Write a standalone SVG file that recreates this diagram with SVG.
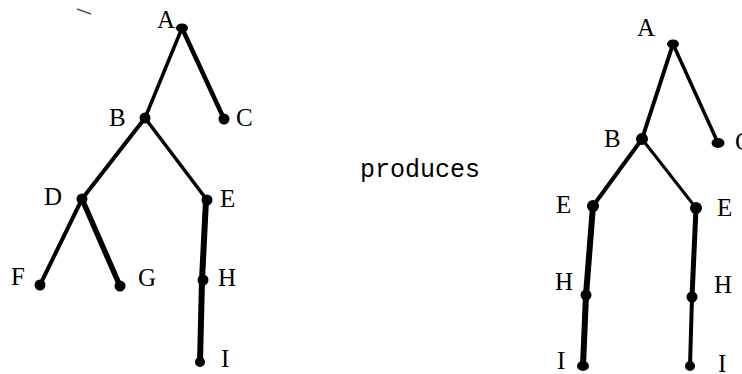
<svg xmlns="http://www.w3.org/2000/svg" width="742" height="374" viewBox="0 0 742 374">
<style>
.e{stroke:#000;stroke-linecap:round;fill:none}
.n{fill:#000}
.l{font-family:"Liberation Serif","Times New Roman",serif;font-size:25px;fill:#000}
.p{font-family:"Liberation Mono","Courier New",monospace;font-size:25px;fill:#000}
</style>
<rect width="742" height="374" fill="#fff"/>
<path d="M77 9 L91 14" stroke="#555" stroke-width="1.5" fill="none"/>
<g id="connectors">
<line class="e" x1="182" y1="28" x2="145" y2="118" stroke-width="3.5"/>
<line class="e" x1="182" y1="28" x2="224" y2="119" stroke-width="4.5"/>
<line class="e" x1="145" y1="118" x2="82" y2="199" stroke-width="4"/>
<line class="e" x1="145" y1="118" x2="207" y2="200" stroke-width="3.5"/>
<line class="e" x1="82" y1="199" x2="40" y2="285" stroke-width="4"/>
<line class="e" x1="82" y1="199" x2="120" y2="286" stroke-width="5.5"/>
<line class="e" x1="206" y1="200" x2="202" y2="280" stroke-width="6"/>
<line class="e" x1="202" y1="280" x2="200" y2="362" stroke-width="6"/>
<line class="e" x1="673" y1="44" x2="642" y2="139" stroke-width="4"/>
<line class="e" x1="673" y1="44" x2="718" y2="143" stroke-width="3.5"/>
<line class="e" x1="642" y1="139" x2="593" y2="206" stroke-width="4"/>
<line class="e" x1="642" y1="139" x2="696" y2="208" stroke-width="3"/>
<line class="e" x1="593" y1="206" x2="586" y2="295" stroke-width="6"/>
<line class="e" x1="586" y1="295" x2="583" y2="366" stroke-width="6"/>
<line class="e" x1="696" y1="208" x2="692" y2="297" stroke-width="5"/>
<line class="e" x1="692" y1="297" x2="690" y2="366" stroke-width="4"/>
</g>
<g id="L-A"><ellipse class="n" cx="182" cy="28" rx="6" ry="4.5"/><text class="l" x="157" y="28">A</text></g>
<g id="L-B"><circle class="n" cx="145" cy="118" r="5.5"/><text class="l" x="109" y="126">B</text></g>
<g id="L-C"><circle class="n" cx="224" cy="119" r="5.5"/><text class="l" x="236" y="126">C</text></g>
<g id="L-D"><circle class="n" cx="82" cy="199" r="5.5"/><text class="l" x="44" y="205">D</text></g>
<g id="L-E"><circle class="n" cx="207" cy="200" r="5.5"/><text class="l" x="220" y="207">E</text></g>
<g id="L-F"><circle class="n" cx="40" cy="285" r="5.5"/><text class="l" x="11" y="285">F</text></g>
<g id="L-G"><circle class="n" cx="120" cy="286" r="5.5"/><text class="l" x="138" y="286">G</text></g>
<g id="L-H"><circle class="n" cx="203" cy="280" r="5.5"/><text class="l" x="218" y="286">H</text></g>
<g id="L-I"><circle class="n" cx="200" cy="362" r="5"/><text class="l" x="221" y="367">I</text></g>
<text class="p" x="360" y="177">produces</text>
<g id="R-A"><ellipse class="n" cx="673" cy="44" rx="6" ry="4.5"/><text class="l" x="637" y="36">A</text></g>
<g id="R-B"><circle class="n" cx="642" cy="139" r="6"/><text class="l" x="604" y="147">B</text></g>
<g id="R-C"><ellipse class="n" cx="718" cy="143" rx="6.5" ry="5"/><text class="l" x="735" y="150">C</text></g>
<g id="R-E1"><circle class="n" cx="593" cy="206" r="6"/><text class="l" x="556" y="213">E</text></g>
<g id="R-E2"><circle class="n" cx="696" cy="208" r="6"/><text class="l" x="717" y="216">E</text></g>
<g id="R-H1"><circle class="n" cx="586" cy="295" r="5.5"/><text class="l" x="555" y="290">H</text></g>
<g id="R-H2"><circle class="n" cx="692" cy="297" r="5.5"/><text class="l" x="714" y="293">H</text></g>
<g id="R-I1"><ellipse class="n" cx="583" cy="366" rx="6" ry="5"/><text class="l" x="557" y="369">I</text></g>
<g id="R-I2"><circle class="n" cx="690" cy="366" r="5"/><text class="l" x="718" y="372">I</text></g>
</svg>
